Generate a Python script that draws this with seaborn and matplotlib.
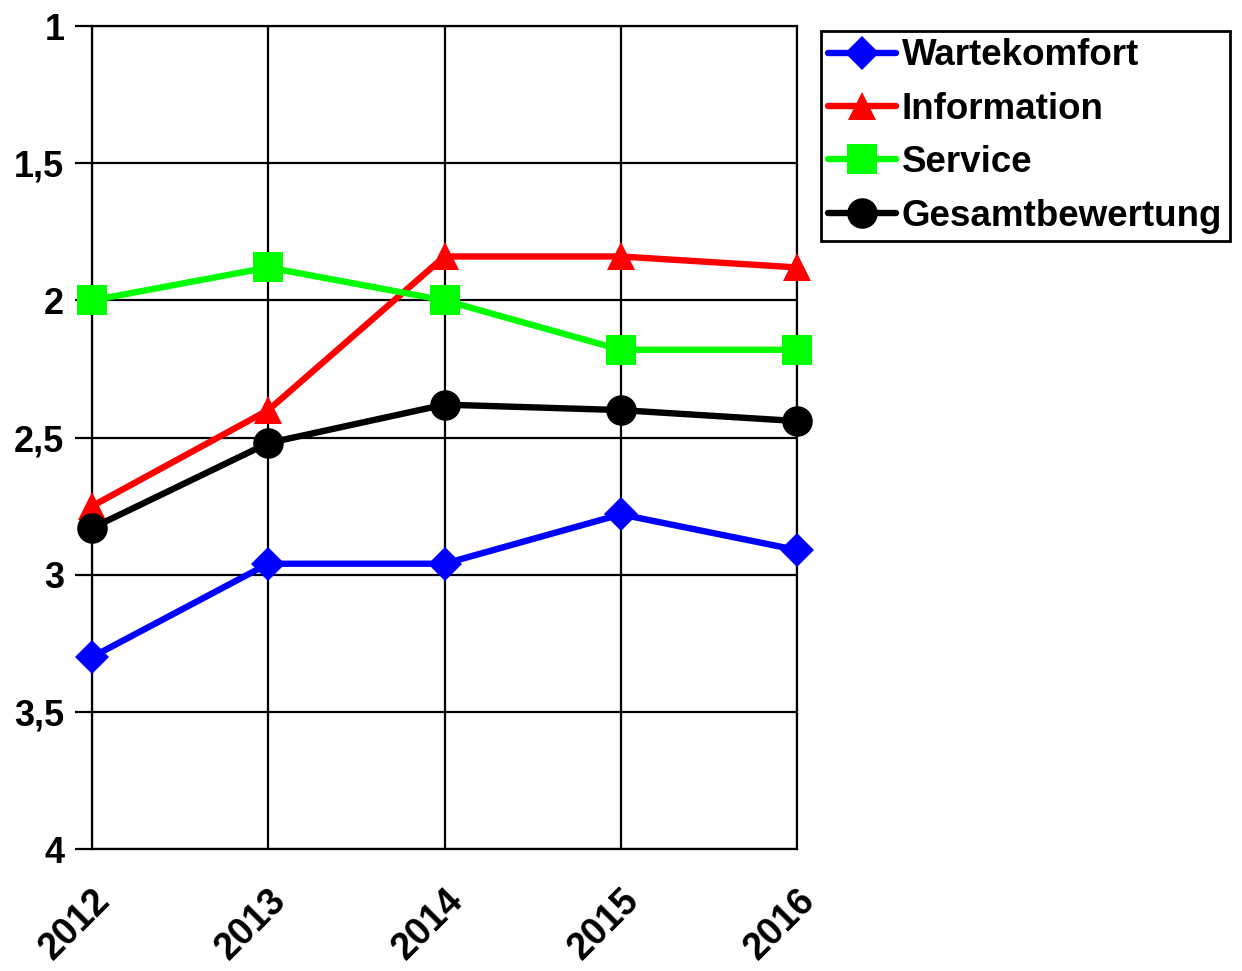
import matplotlib
matplotlib.use("Agg")
import matplotlib.pyplot as plt
import seaborn as sns
import pandas as pd
from matplotlib.ticker import FuncFormatter, FixedLocator

years = ["2012", "2013", "2014", "2015", "2016"]
wartekomfort = [3.30, 2.96, 2.96, 2.78, 2.91]
information = [2.75, 2.40, 1.84, 1.84, 1.88]
service = [2.00, 1.88, 2.00, 2.18, 2.18]
gesamt = [2.83, 2.52, 2.38, 2.40, 2.44]
series_names = ["Wartekomfort", "Information", "Service", "Gesamtbewertung"]
y_ticks = [1, 1.5, 2, 2.5, 3, 3.5, 4]

sns.set_theme(style="white")
plt.rcParams["font.family"] = ["Liberation Sans", "DejaVu Sans"]
plt.rcParams["font.weight"] = "bold"
plt.rcParams["text.color"] = "black"
plt.rcParams["xtick.color"] = "black"
plt.rcParams["ytick.color"] = "black"
plt.rcParams["xtick.labelcolor"] = "black"
plt.rcParams["ytick.labelcolor"] = "black"

rows = []
for name, vals in zip(series_names, [wartekomfort, information, service, gesamt]):
    for i, v in enumerate(vals):
        rows.append({"x": i, "Jahr": years[i], "Wert": v, "Serie": name})
df = pd.DataFrame(rows)

palette = {"Wartekomfort": "#0000FF", "Information": "#FF0000",
           "Service": "#00FF00", "Gesamtbewertung": "#000000"}
markers = {"Wartekomfort": "D", "Information": "^", "Service": "s", "Gesamtbewertung": "o"}
msizes = {"Wartekomfort": 17, "Information": 20, "Service": 21, "Gesamtbewertung": 22}

fig = plt.figure(figsize=(12.42, 9.71), dpi=100)
ax = fig.add_axes([0.0741, 0.1256, 0.5676, 0.8476])

ax.grid(True, color="black", linewidth=1.6)
ax.set_axisbelow(True)

for name in series_names:
    sub = df[df["Serie"] == name]
    sns.lineplot(data=sub, x="x", y="Wert", ax=ax, color=palette[name],
                 marker=markers[name], markersize=msizes[name],
                 markeredgewidth=0, linewidth=4.6, label=name, legend=False,
                 clip_on=False, zorder=3)

ax.set_xlim(0, 4)
ax.set_ylim(4, 1)
ax.xaxis.set_major_locator(FixedLocator(range(len(years))))
ax.set_xticklabels(years, rotation=45, ha="right", rotation_mode="anchor",
                   fontsize=27, fontweight="bold", color="black")
ax.yaxis.set_major_locator(FixedLocator(y_ticks))
ax.yaxis.set_major_formatter(FuncFormatter(lambda v, p: ("%g" % v).replace(".", ",")))
for lab in ax.get_yticklabels():
    lab.set_fontsize(26)
    lab.set_fontweight("bold")
    lab.set_color("black")
ax.tick_params(axis="y", which="major", direction="out", length=12, width=1.6,
               color="black", labelcolor="black", labelsize=26, pad=8, left=True)
ax.tick_params(axis="x", which="major", direction="out", length=0, pad=24,
               labelcolor="black", labelsize=27, bottom=True)
ax.set_xlabel("")
ax.set_ylabel("")
for s in ax.spines.values():
    s.set_color("black")
    s.set_linewidth(1.6)

handles, labels = ax.get_legend_handles_labels()
leg = fig.legend(handles, labels, loc="upper left", bbox_to_anchor=(0.661, 0.968),
                 bbox_transform=fig.transFigure, borderaxespad=0, fancybox=False,
                 edgecolor="black", framealpha=1, handlelength=1.85,
                 handletextpad=0.15, labelspacing=0.5, borderpad=0.2,
                 prop={"weight": "bold", "size": 26.5})
leg.get_frame().set_linewidth(2)
for t in leg.get_texts():
    t.set_color("black")

fig.savefig("out.png", dpi=100)
